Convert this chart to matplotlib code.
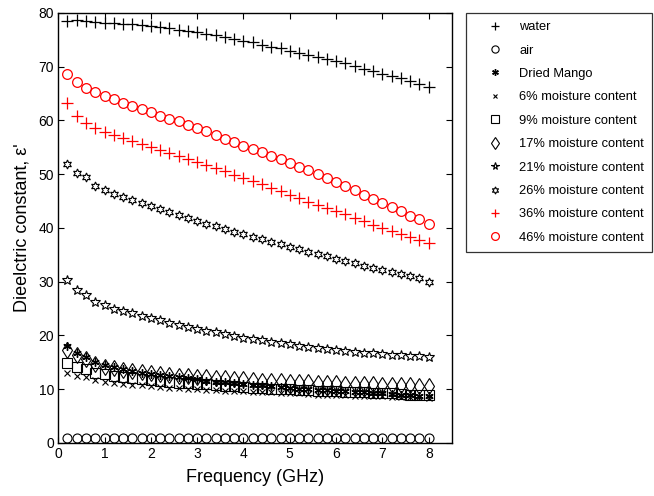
import matplotlib
matplotlib.use("Agg")
import matplotlib.pyplot as plt

plt.rcParams['font.family'] = ['Liberation Sans', 'DejaVu Sans']

# frequency points (GHz)
freq = [0.2, 0.4, 0.6, 0.8, 1.0, 1.2, 1.4, 1.6, 1.8, 2.0,
        2.2, 2.4, 2.6, 2.8, 3.0, 3.2, 3.4, 3.6, 3.8, 4.0,
        4.2, 4.4, 4.6, 4.8, 5.0, 5.2, 5.4, 5.6, 5.8, 6.0,
        6.2, 6.4, 6.6, 6.8, 7.0, 7.2, 7.4, 7.6, 7.8, 8.0]

water = [78.5, 78.6, 78.4, 78.3, 78.2, 78.1, 78.0, 77.9, 77.7, 77.6,
         77.3, 77.1, 76.9, 76.6, 76.4, 76.1, 75.8, 75.5, 75.1, 74.8,
         74.5, 74.1, 73.7, 73.4, 73.0, 72.6, 72.2, 71.8, 71.4, 71.0,
         70.6, 70.1, 69.6, 69.2, 68.7, 68.2, 67.8, 67.3, 66.8, 66.2]

air = [1.0, 1.0, 1.0, 1.0, 1.0, 1.0, 1.0, 1.0, 1.0, 1.0,
       1.0, 1.0, 1.0, 1.0, 1.0, 1.0, 1.0, 1.0, 1.0, 1.0,
       1.0, 1.0, 1.0, 1.0, 1.0, 1.0, 1.0, 1.0, 1.0, 1.0,
       1.0, 1.0, 1.0, 1.0, 1.0, 1.0, 1.0, 1.0, 1.0, 1.0]

dried = [18.0, 16.8, 16.0, 15.0, 14.5, 14.1, 13.7, 13.4, 13.1, 12.8,
         12.6, 12.4, 12.2, 12.0, 11.8, 11.6, 11.4, 11.3, 11.1, 11.0,
         10.8, 10.7, 10.5, 10.4, 10.3, 10.1, 10.0, 9.9, 9.8, 9.7,
         9.6, 9.5, 9.4, 9.3, 9.2, 9.1, 9.0, 8.9, 8.8, 8.8]

mc6 = [13.0, 12.5, 12.2, 11.7, 11.4, 11.2, 11.0, 10.8, 10.7, 10.5,
       10.4, 10.3, 10.2, 10.1, 10.0, 9.9, 9.8, 9.7, 9.6, 9.6,
       9.5, 9.4, 9.4, 9.3, 9.2, 9.2, 9.1, 9.0, 9.0, 8.9,
       8.9, 8.8, 8.8, 8.7, 8.7, 8.6, 8.6, 8.5, 8.5, 8.4]

mc9 = [14.9, 14.2, 13.7, 13.1, 12.8, 12.5, 12.3, 12.1, 11.9, 11.7,
       11.5, 11.4, 11.2, 11.1, 11.0, 10.9, 10.7, 10.6, 10.5, 10.4,
       10.3, 10.2, 10.1, 10.0, 10.0, 9.9, 9.8, 9.7, 9.6, 9.6,
       9.5, 9.4, 9.4, 9.3, 9.2, 9.2, 9.1, 9.0, 9.0, 8.9]

mc17 = [17.2, 16.3, 15.6, 14.7, 14.2, 13.9, 13.6, 13.4, 13.2, 13.0,
        12.8, 12.7, 12.5, 12.4, 12.3, 12.2, 12.1, 12.0, 11.9, 11.8,
        11.7, 11.6, 11.5, 11.5, 11.4, 11.3, 11.3, 11.2, 11.1, 11.1,
        11.0, 11.0, 10.9, 10.9, 10.8, 10.8, 10.7, 10.7, 10.6, 10.6]

mc21 = [30.4, 28.4, 27.6, 26.2, 25.6, 25.0, 24.6, 24.1, 23.6, 23.2,
        22.8, 22.4, 22.0, 21.6, 21.2, 20.9, 20.6, 20.2, 19.9, 19.6,
        19.3, 19.1, 18.8, 18.6, 18.4, 18.1, 17.9, 17.7, 17.5, 17.3,
        17.1, 17.0, 16.8, 16.7, 16.5, 16.4, 16.3, 16.2, 16.1, 16.0]

mc26 = [51.8, 50.3, 49.4, 47.8, 47.0, 46.4, 45.8, 45.2, 44.7, 44.1,
        43.5, 43.0, 42.4, 41.9, 41.3, 40.8, 40.3, 39.8, 39.3, 38.8,
        38.4, 37.9, 37.4, 37.0, 36.5, 36.1, 35.6, 35.2, 34.7, 34.3,
        33.9, 33.4, 33.0, 32.6, 32.2, 31.8, 31.4, 31.0, 30.6, 30.0]

mc36 = [63.2, 60.8, 59.5, 58.6, 57.9, 57.3, 56.7, 56.1, 55.6, 55.1,
        54.5, 54.0, 53.4, 52.9, 52.3, 51.7, 51.1, 50.5, 49.9, 49.3,
        48.7, 48.1, 47.4, 46.8, 46.1, 45.5, 44.9, 44.3, 43.7, 43.1,
        42.5, 41.9, 41.3, 40.6, 40.0, 39.4, 38.8, 38.3, 37.7, 37.2]

mc46 = [68.6, 67.2, 66.0, 65.2, 64.5, 63.9, 63.3, 62.7, 62.1, 61.5,
        60.9, 60.3, 59.8, 59.2, 58.6, 58.0, 57.3, 56.6, 56.0, 55.3,
        54.7, 54.1, 53.4, 52.8, 52.1, 51.4, 50.7, 50.0, 49.2, 48.5,
        47.8, 47.0, 46.2, 45.4, 44.6, 43.9, 43.1, 42.3, 41.6, 40.8]

fig = plt.figure(figsize=(6.54, 4.96), dpi=100)
ax = fig.add_axes([0.089, 0.107, 0.602, 0.867])

ax.plot(freq, water, ls='none', marker='+', ms=8, mew=0.9, color='k', label='water')
ax.plot(freq, air, ls='none', marker='o', ms=6.5, mfc='none', mew=0.8, color='k', label='air')
ax.plot(freq, dried, ls='none', marker=(6, 2, 0), ms=6, mew=1.0, color='k', label='Dried Mango')
ax.plot(freq, mc6, ls='none', marker='x', ms=4, mew=0.8, color='k', label='6% moisture content')
ax.plot(freq, mc9, ls='none', marker='s', ms=7, mfc='none', mew=0.8, color='k', label='9% moisture content')
ax.plot(freq, mc17, ls='none', marker='d', ms=8, mfc='none', mew=0.8, color='k', label='17% moisture content')
ax.plot(freq, mc21, ls='none', marker='*', ms=7, mfc='none', mew=0.8, color='k', label='21% moisture content')
ax.plot(freq, mc26, ls='none', marker=(6, 1, 0), ms=6.5, mfc='none', mew=0.8, color='k', label='26% moisture content')
ax.plot(freq, mc36, ls='none', marker='+', ms=8, mew=0.9, color='red', label='36% moisture content')
ax.plot(freq, mc46, ls='none', marker='o', ms=7, mfc='none', mew=0.9, color='red', label='46% moisture content')

ax.set_xlim(0, 8.5)
ax.set_ylim(0, 80)
ax.set_xticks([0, 1, 2, 3, 4, 5, 6, 7, 8])
ax.set_yticks([0, 10, 20, 30, 40, 50, 60, 70, 80])
ax.tick_params(direction='in', top=True, right=True, length=4, labelsize=10, pad=3)
for s in ax.spines.values():
    s.set_linewidth(1.0)

ax.set_xlabel('Frequency (GHz)', fontsize=13, labelpad=6)
ax.set_ylabel("Dieelctric constant, \u03b5'", fontsize=13, labelpad=6)

leg = fig.legend(loc='upper left', bbox_to_anchor=(0.713, 0.973), fontsize=9.3,
                 frameon=True, fancybox=False, edgecolor='k', labelspacing=0.88,
                 handlelength=3.2, handletextpad=0.3, borderpad=0.6, borderaxespad=0,
                 markerscale=0.8)
leg.get_frame().set_linewidth(0.9)

plt.savefig('out.png', dpi=100)
